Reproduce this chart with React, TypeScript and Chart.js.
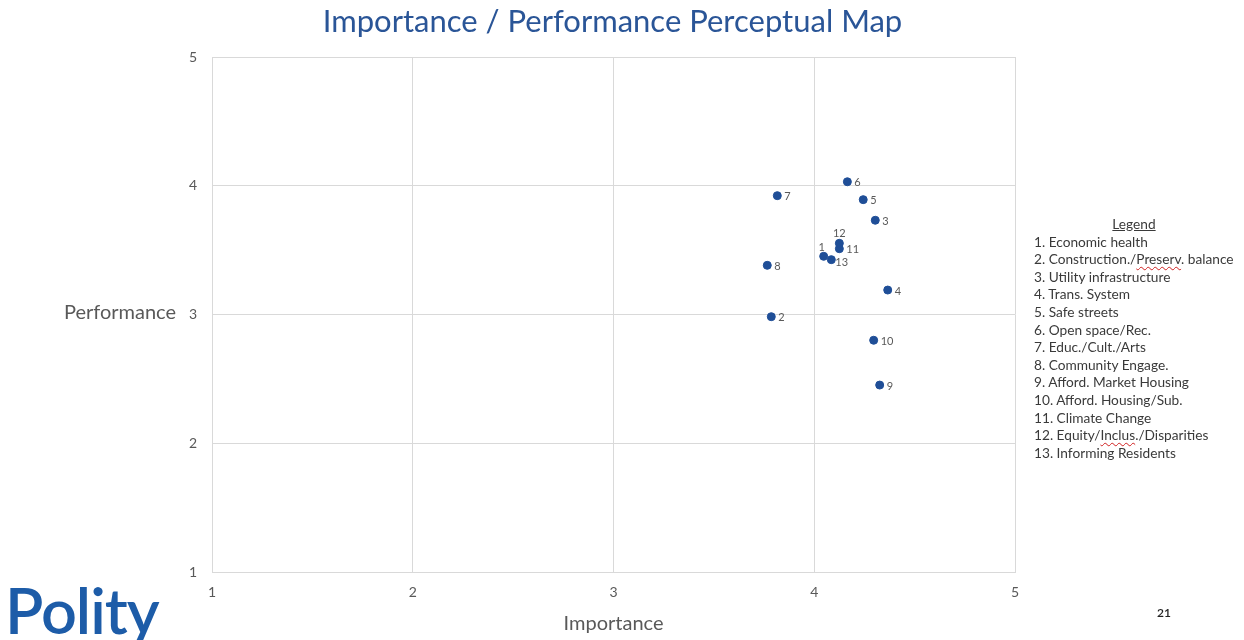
import React, { useEffect, useRef } from "react";
import { Chart, registerables } from "chart.js";

Chart.register(...registerables);

const pointLabels = ["1", "2", "3", "4", "5", "6", "7", "8", "9", "10", "11", "12", "13"];
const importance = [4.047, 3.786, 4.304, 4.366, 4.244, 4.165, 3.816, 3.766, 4.326, 4.296, 4.125, 4.125, 4.085];
const performance = [3.452, 2.983, 3.732, 3.19, 3.892, 4.031, 3.923, 3.382, 2.452, 2.8, 3.511, 3.553, 3.426];
const axisTicks = [1, 2, 3, 4, 5];
const legendItems = [
  "1. Economic health",
  "2. Construction./Preserv. balance",
  "3. Utility infrastructure",
  "4. Trans. System",
  "5. Safe streets",
  "6. Open space/Rec.",
  "7. Educ./Cult./Arts",
  "8. Community Engage.",
  "9. Afford. Market Housing",
  "10. Afford. Housing/Sub.",
  "11. Climate Change",
  "12. Equity/Inclus./Disparities",
  "13. Informing Residents",
];
const misspelled = ["Preserv", "Inclus"];

const FONT = "Lato, 'Open Sans', sans-serif";
const GRAY = "#595959";
const BLUE = "#1F4E97";

// label placement style per point (position relative to marker)
const labelPlacement: Record<string, string> = { "12": "above", "1": "aboveLeft", "13": "rightLow" };

const pointLabelPlugin = {
  id: "pointLabels",
  afterDatasetsDraw(chart: any) {
    const meta = chart.getDatasetMeta(0);
    const ctx = chart.ctx;
    ctx.save();
    ctx.font = `11px ${FONT}`;
    ctx.fillStyle = GRAY;
    meta.data.forEach((el: any, i: number) => {
      const lbl = pointLabels[i];
      const p = labelPlacement[lbl] || "right";
      let x = el.x, y = el.y;
      if (p === "right") { ctx.textAlign = "left"; ctx.textBaseline = "middle"; x += 7; y += 1; }
      else if (p === "above") { ctx.textAlign = "center"; ctx.textBaseline = "middle"; y -= 10; }
      else if (p === "aboveLeft") { ctx.textAlign = "center"; ctx.textBaseline = "middle"; x -= 2; y -= 9; }
      else { ctx.textAlign = "left"; ctx.textBaseline = "middle"; x += 4; y += 3; }
      ctx.fillText(lbl, x, y);
    });
    ctx.restore();
  },
};

const yTitlePlugin = {
  id: "yTitle",
  afterDraw(chart: any) {
    const ctx = chart.ctx;
    const ys = chart.scales.y;
    ctx.save();
    ctx.font = `20px ${FONT}`;
    ctx.fillStyle = GRAY;
    ctx.textAlign = "right";
    ctx.textBaseline = "middle";
    ctx.fillText("Performance", 176, ys.getPixelForValue(3) - 2);
    ctx.restore();
  },
};

function LegendLine({ text }: { text: string }) {
  const parts: React.ReactNode[] = [];
  let rest = text;
  let k = 0;
  for (const w of misspelled) {
    const idx = rest.indexOf(w);
    if (idx >= 0) {
      parts.push(<span key={k++}>{rest.slice(0, idx)}</span>);
      parts.push(
        <span key={k++} style={{ textDecoration: "underline wavy #d02020", textDecorationThickness: "1px", textUnderlineOffset: "2px" }}>{w}</span>
      );
      rest = rest.slice(idx + w.length);
    }
  }
  parts.push(<span key={k++}>{rest}</span>);
  return <div style={{ height: 17.6, lineHeight: "17.6px", whiteSpace: "nowrap" }}>{parts}</div>;
}

export default function App() {
  const ref = useRef<HTMLCanvasElement>(null);
  useEffect(() => {
    if (!ref.current) return;
    const chart = new Chart(ref.current, {
      type: "scatter",
      data: {
        datasets: [
          {
            label: "Items",
            data: importance.map((x, i) => ({ x, y: performance[i] })),
            backgroundColor: BLUE,
            borderColor: BLUE,
            pointRadius: 4,
            pointHoverRadius: 4,
          },
        ],
      },
      options: {
        responsive: false,
        animation: false,
        layout: { padding: { left: 0, right: 229, top: 57, bottom: 0 } },
        plugins: { legend: { display: false }, tooltip: { enabled: false }, title: { display: false } },
        scales: {
          x: {
            type: "linear",
            min: 1,
            max: 5,
            afterBuildTicks: (s: any) => { s.ticks = axisTicks.map((v) => ({ value: v })); },
            afterFit: (s: any) => { s.height = 68; },
            grid: { color: "#D9D9D9", drawTicks: false },
            border: { color: "#D9D9D9" },
            ticks: { color: GRAY, font: { family: FONT, size: 14 }, padding: 12 },
            title: { display: true, text: "Importance", color: GRAY, font: { family: FONT, size: 20 }, padding: { top: 0, bottom: 4 } },
          },
          y: {
            type: "linear",
            min: 1,
            max: 5,
            afterBuildTicks: (s: any) => { s.ticks = axisTicks.map((v) => ({ value: v })); },
            afterFit: (s: any) => { s.width = 212; },
            grid: { color: "#D9D9D9", drawTicks: false },
            border: { color: "#D9D9D9" },
            ticks: { color: GRAY, font: { family: FONT, size: 14 }, padding: 15 },
          },
        },
      },
      plugins: [pointLabelPlugin, yTitlePlugin],
    } as any);
    return () => chart.destroy();
  }, []);

  return (
    <div style={{ position: "absolute", left: 0, top: 0, width: 1244, height: 640, background: "#fff", overflow: "hidden", fontFamily: FONT }}>
      <canvas ref={ref} width={1244} height={640} style={{ position: "absolute", left: 0, top: 0 }} />
      <div style={{ position: "absolute", left: 0, width: 1225, top: 1, textAlign: "center", fontSize: 31, color: "#2A5597", lineHeight: "38px" }}>
        Importance / Performance Perceptual Map
      </div>
      <div style={{ position: "absolute", left: 1034, top: 215, fontSize: 13.7, color: "#3a3a3a" }}>
        <div style={{ width: 200, textAlign: "center", textDecoration: "underline", height: 17.6, lineHeight: "17.6px" }}>Legend</div>
        {legendItems.map((t) => (
          <LegendLine key={t} text={t} />
        ))}
      </div>
      <div style={{ position: "absolute", left: 1157, top: 605, fontSize: 12, color: "#222", fontWeight: 600 }}>21</div>
      <div style={{ position: "absolute", left: 5, top: 572, fontSize: 63, lineHeight: "76px", color: "#1D5CA8", letterSpacing: -1, fontWeight: 600 }}>Polity</div>
    </div>
  );
}
